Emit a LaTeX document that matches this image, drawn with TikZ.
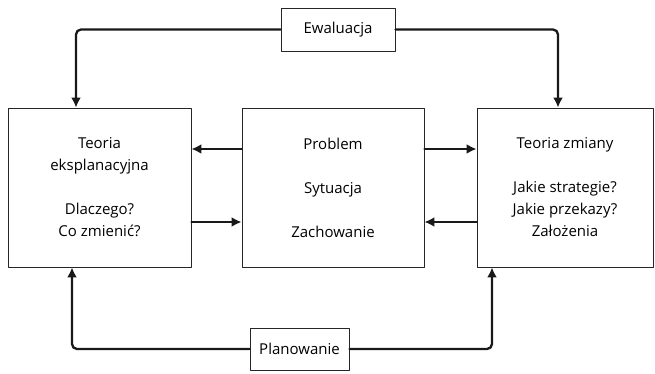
\documentclass[tikz,border=0pt]{standalone}
\usepackage{fontspec}
\setmainfont{Open Sans}
\usepackage[dvipsnames]{xcolor}
\usetikzlibrary{arrows.meta}
\usetikzlibrary{positioning}
\definecolor{boxgray}{rgb}{0.15,0.15,0.15}

\begin{document}
\begin{tikzpicture}[line cap=round,line join=round, x=1pt,y=-1pt,
	box/.style={draw=boxgray,line width=0.9pt,align=center,inner sep=0pt,minimum height=159pt,font=\fontsize{15}{22}\selectfont},
	lbl/.style={draw=boxgray,line width=0.9pt,inner sep=0pt,minimum height=43pt,font=\fontsize{15}{22}\selectfont},
	conn/.style={line width=2.3pt,color=black!90,-{Latex[length=10pt, width=10pt]}}]
					\useasboundingbox (0,0) rectangle (655,374);
					\node[box,minimum width=183pt] (teoria) at (99.5,187.5) {Teoria\\eksplanacyjna\\[22pt]Dlaczego?\\Co zmienić?};
					\node[box,minimum width=182pt] (problem) at (333,187.5) {Problem\\[22pt]Sytuacja\\[22pt]Zachowanie};
					\node[box,minimum width=176pt] (zmiana) at (565,187.5) {Teoria zmiany\\[22pt]Jakie strategie?\\Jakie przekazy?\\Założenia};
					\node[lbl,minimum width=114pt] (ewal) at (338,29.5) {Ewaluacja};
					\node[lbl,minimum width=99pt,minimum height=42pt] (plan) at (299.5,349) {Planowanie};
					\draw[conn,rounded corners=5pt] (ewal.west) -| ([xshift=-23.5pt]teoria.north);
					\draw[conn,rounded corners=5pt] (ewal.east) -| ([xshift=-7pt]zmiana.north);
					\draw[conn,rounded corners=5pt] (plan.west) -| ([xshift=-27.5pt]teoria.south);
					\draw[conn,rounded corners=5pt] (plan.east) -| ([xshift=-73pt]zmiana.south);
					\draw[conn] ([yshift=38.5pt]problem.west) -- ([yshift=38.5pt]teoria.east);
					\draw[conn] ([yshift=-34.5pt]teoria.east) -- ([yshift=-34.5pt]problem.west);
					\draw[conn] ([yshift=38.5pt]problem.east) -- ([yshift=38.5pt]zmiana.west);
					\draw[conn] ([yshift=-34.5pt]zmiana.west) -- ([yshift=-34.5pt]problem.east);
				\end{tikzpicture}
\end{document}
